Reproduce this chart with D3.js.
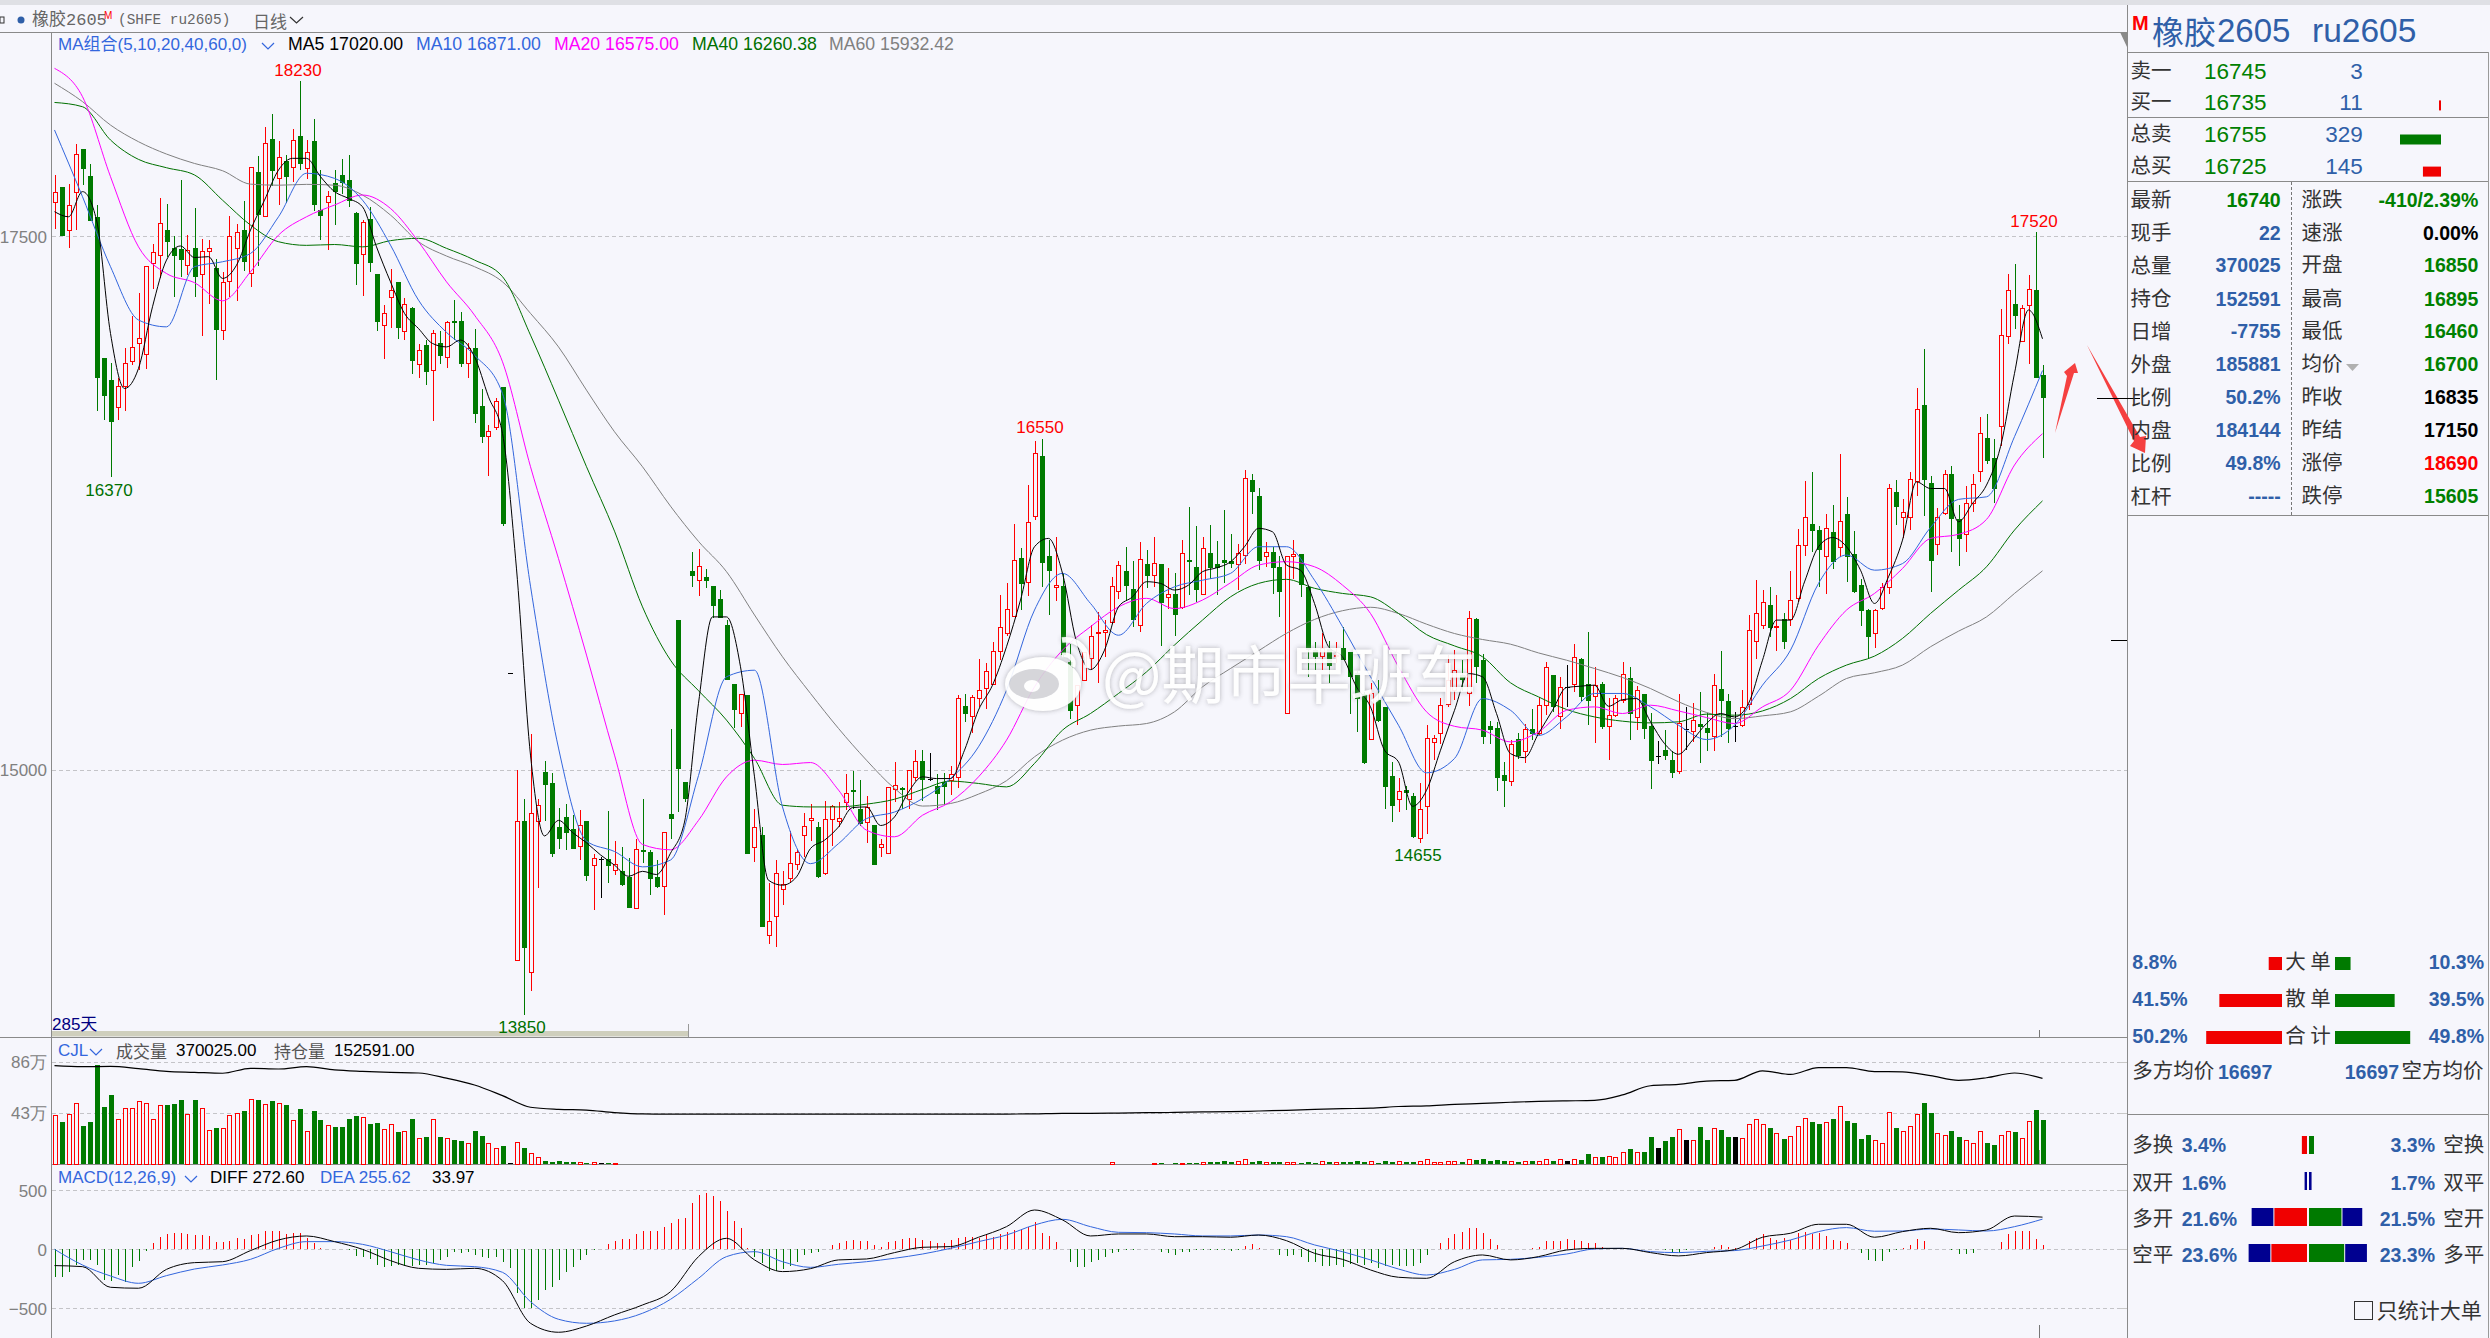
<!DOCTYPE html>
<html><head><meta charset="utf-8">
<script src="https://cdn.jsdelivr.net/npm/d3@7/dist/d3.min.js"></script>
<style>html,body{margin:0;padding:0;background:#f6f6fc}svg{display:block}</style>
</head><body><svg id="c" width="2490" height="1338"></svg>
<script>
const open=[17660,17730,17530,17705,17910,17785,17590,16930,16825,16700,
16795,16915,17000,16945,17375,17410,17530,17445,17440,17365,
17445,17320,17430,17350,17060,17290,17445,17530,17325,17800,
17595,17955,17770,17855,17825,17970,17820,17945,17625,17660,
17750,17790,17765,17610,17415,17580,17325,17080,17215,17285,
17055,17165,16900,16990,16870,17000,16930,17105,17105,16905,
16975,16705,16560,16605,16795,15455,14105,14760,14050,14755,
14990,14935,14730,14780,14720,14640,14760,14550,14580,14580,
14525,14525,14495,14350,14625,14615,14495,14450,14790,15700,
14940,15930,15885,15905,15860,15800,15680,15400,15265,15350,
14635,14695,14220,14310,14440,14490,14555,14690,14760,14730,
14515,14765,14755,14845,14905,14815,14750,14740,14635,14605,
14905,14915,14860,14965,15040,14955,14925,14940,14950,14965,
15300,15250,15335,15380,15400,15555,15640,15720,15990,15875,
16185,16470,16000,15855,15860,15505,15300,15420,15520,15640,
15645,15690,15835,15930,15845,15675,15965,15910,15965,15805,
15825,15760,15985,15950,15820,16015,15965,15985,15980,15960,
16005,16360,16285,16000,16020,15950,15265,16000,16010,15855,
15560,15530,15565,15530,15570,15550,15455,15355,15140,15325,
15295,14970,14860,14905,14875,14675,14825,15125,15170,15305,
15370,15445,15355,15705,15515,15205,15195,14975,14945,15145,
15085,15190,15170,15300,15445,15250,15385,15400,15520,15400,
15345,15400,15200,15255,15325,15430,15245,15355,15205,15065,
15090,15045,14990,15190,15180,15215,15195,15155,15380,15320,
15205,15205,15305,15600,15675,15770,15665,15705,15705,15800,
16050,16150,16125,16000,16115,16040,16200,16010,15865,15750,
15640,15755,15855,16300,16180,16180,16350,16710,16345,16055,
16200,16385,16175,16100,16250,16400,16555,16460,16610,17030,
17185,17005,17175,17250,16850];
const high=[17790,17730,17745,17935,17910,17840,17645,16930,16905,16835,
16975,17125,17235,17360,17465,17680,17650,17500,17765,17505,
17635,17490,17485,17395,17335,17595,17560,17665,17825,17875,
18015,18075,17945,17880,18005,18230,17950,18050,17810,17715,
17810,17865,17880,17615,17575,17640,17325,17180,17345,17285,
17210,17170,16995,17015,17060,17055,17105,17200,17145,17000,
17065,16785,16615,16740,16795,15455,15000,14860,15165,14860,
15040,14985,14820,14840,14785,14810,14760,14605,14590,14805,
14665,14635,14585,14675,14860,14625,14575,14705,15190,15700,
14940,16020,16035,15940,15860,15840,15700,15400,15355,15350,
14815,14730,14470,14575,14525,14710,14630,14795,14840,14755,
14855,14835,14850,14980,14995,14950,14875,14740,14675,14920,
15035,14920,15000,15090,15090,15080,14980,14985,15015,15350,
15355,15350,15520,15500,15600,15820,15875,16150,16040,16335,
16540,16550,16075,16090,15920,15590,15395,15550,15680,15740,
15700,15905,15980,16045,15980,16065,16030,16090,15965,15945,
15920,16075,16230,16140,16090,16145,16070,16215,16105,16060,
16405,16385,16320,16065,16045,16000,16000,16075,16010,15855,
15600,15640,15605,15600,15670,15550,15460,15365,15405,15420,
15295,15035,14960,14925,14890,14935,15210,15160,15335,15535,
15560,15515,15745,15710,15540,15230,15225,15035,15140,15170,
15215,15285,15340,15505,15445,15435,15490,15590,15525,15645,
15480,15410,15335,15350,15505,15480,15390,15355,15265,15135,
15185,15085,15355,15295,15310,15365,15265,15450,15555,15355,
15270,15375,15725,15890,15840,15855,15820,15735,15930,16130,
16355,16395,16140,16200,16240,16480,16280,16120,15895,15755,
15755,15875,16340,16360,16270,16395,16790,16970,16375,16225,
16405,16425,16240,16330,16385,16655,16665,16550,17160,17325,
17370,17180,17320,17520,16895];
const low=[17535,17500,17445,17530,17740,17570,16680,16640,16370,16640,
16680,16895,16875,16880,17255,17305,17405,17215,17310,17320,
17215,17035,17185,16825,17015,17215,17195,17340,17265,17360,
17595,17735,17645,17655,17755,17810,17770,17620,17485,17435,
17555,17700,17640,17270,17220,17335,17055,16925,17070,17020,
17015,16855,16835,16805,16635,16900,16885,17015,16890,16835,
16625,16530,16375,16590,16140,15455,14105,13850,13960,14445,
14760,14590,14630,14625,14630,14575,14480,14340,14400,14470,
14505,14455,14350,14350,14560,14410,14445,14320,14675,14800,
14850,15855,15815,15850,15710,15710,15420,15195,15200,14605,
14565,14260,14180,14170,14365,14475,14530,14590,14665,14490,
14505,14640,14730,14810,14815,14735,14655,14555,14590,14605,
14850,14815,14815,14945,14855,14945,14810,14835,14880,14915,
15225,15170,15295,15285,15400,15515,15625,15720,15750,15815,
16170,15855,15725,15790,15530,15235,15210,15420,15465,15405,
15530,15685,15800,15795,15670,15645,15850,15855,15580,15755,
15625,15755,15820,15785,15820,15895,15820,15875,15945,15840,
15965,16200,15935,15950,15825,15715,15265,15895,15810,15435,
15465,15465,15405,15500,15515,15260,15175,15025,15140,15225,
14815,14755,14800,14810,14680,14655,14700,15045,15120,15295,
15325,15370,15300,15405,15120,15120,14900,14825,14925,15050,
15030,15140,15160,15255,15270,15190,15295,15365,15320,15210,
15125,15190,15045,15245,15310,15140,15185,15145,14910,15025,
15045,14960,14980,15090,15130,15030,15085,15085,15155,15125,
15130,15200,15280,15520,15660,15620,15555,15565,15675,15785,
16000,16020,15855,15825,15940,15995,15880,15830,15675,15520,
15570,15750,15825,16145,16085,16125,16285,16190,15835,16005,
16195,16020,15955,16020,16210,16350,16435,16250,16515,16995,
17065,17005,16900,16835,16460];
const close=[17705,17500,17645,17885,17815,17570,16835,16750,16630,16795,
16905,16980,17020,17360,17425,17560,17475,17410,17390,17435,
17310,17430,17445,17060,17285,17500,17520,17380,17825,17600,
17935,17805,17870,17780,17950,17840,17895,17645,17595,17685,
17710,17750,17665,17370,17565,17375,17100,17140,17245,17070,
17180,16915,16965,16865,17045,16940,17095,17095,16900,16975,
16665,16560,16585,16725,16150,15455,14755,14165,14795,14830,
14930,14605,14675,14705,14630,14740,14500,14585,14580,14550,
14555,14460,14350,14625,14615,14485,14450,14705,14770,15005,
14860,15910,15950,15885,15765,15710,15420,15280,15350,14605,
14730,14260,14290,14515,14460,14560,14610,14735,14770,14495,
14765,14825,14770,14890,14895,14745,14820,14555,14650,14915,
14925,14905,14995,15040,14950,14955,14885,14920,14975,15335,
15260,15340,15370,15460,15555,15665,15750,15980,15870,16160,
16480,15970,15930,15865,15535,15275,15395,15550,15625,15645,
15650,15860,15955,15860,15700,15985,15910,15965,15780,15820,
15725,16015,15975,15840,16035,15945,15945,15970,15965,16015,
16365,16300,15980,16020,15945,15835,16000,16010,15865,15560,
15530,15570,15485,15535,15515,15435,15330,15030,15355,15230,
14920,14830,14895,14890,14685,14815,15145,15145,15300,15420,
15465,15420,15710,15480,15155,15185,14960,14945,15120,15065,
15190,15165,15300,15480,15295,15385,15385,15525,15340,15320,
15395,15200,15255,15335,15445,15260,15370,15190,15040,15065,
15065,14985,15215,15190,15230,15200,15170,15395,15320,15190,
15205,15290,15650,15730,15785,15665,15670,15600,15795,16050,
16180,16120,16030,16130,15975,16165,15995,15835,15745,15620,
15745,15855,16320,16230,16205,16360,16690,16360,15980,16180,
16385,16175,16080,16250,16335,16575,16445,16315,17035,17245,
17125,17160,17250,16835,16740];
const volume=[40.7,35.7,41.6,50.9,32.3,35.7,83.7,48.1,58.4,37.9,
46.4,47.2,52.3,51.4,37.9,49.2,50.0,50.9,54.2,41.6,
54.2,46.4,28.1,30.3,30.3,40.7,43.0,44.4,54.2,54.2,
50.0,52.8,50.9,50.0,36.8,46.6,27.0,45.0,36.8,32.3,
31.5,31.5,37.9,40.7,38.8,34.0,34.6,28.9,33.2,27.3,
27.3,38.2,21.4,22.5,37.4,22.5,21.4,20.5,19.7,17.7,
28.1,23.3,17.7,12.9,15.5,0.6,18.5,13.5,8.7,5.1,
2.8,2.0,2.2,2.0,1.7,1.4,1.1,1.1,0.8,0.8,
0.8,0,0,0,0,0,0,0,0,0,
0,0,0,0,0,0,0,0,0,0,
0,0,0,0,0,0,0,0,0,0,
0,0,0,0,0,0,0,0,0,0,
0,0,0,0,0,0,0,0,0,0,
0,0,0,0,0,0,0,0,0,0,
0,0,0,0,0,0,0,0,0,0,
0,1.1,0,0,0,0,0,0.8,0.8,0,
0.8,0.8,0.8,0.8,1.1,1.7,1.7,2.5,1.7,1.7,
3.4,2.0,2.5,1.1,1.7,1.7,1.1,1.1,1.1,2.0,
1.1,1.7,2.0,1.1,1.4,2.0,2.5,1.7,2.0,1.1,
2.5,1.7,1.7,1.7,1.7,2.0,3.4,1.1,1.4,1.7,
1.7,1.7,3.9,3.4,4.2,2.5,3.4,2.2,2.5,1.7,
2.2,2.5,1.7,3.4,2.5,3.4,2.5,4.2,3.4,8.7,
5.6,5.6,6.7,5.9,9.8,12.6,9.3,10.4,22.8,13.5,
19.4,22.8,28.7,20.0,20.0,31.2,20.2,30.1,28.7,22.8,
22.8,21.9,33.7,37.9,33.7,30.3,25.3,21.1,22.8,32.0,
38.2,35.7,33.7,34.6,37.9,48.1,36.5,34.6,21.4,24.4,
20.2,17.7,43.8,30.3,27.0,32.0,41.6,51.4,43.0,25.3,
24.4,27.8,22.8,19.4,17.7,27.0,17.7,16.0,24.4,27.0,
27.0,21.1,36.2,45.8,37.0];
const macdHist=[-232,-232,-189,-133,-90,-90,-133,-260,-266,-218,
-274,-153,-96,-14,51,102,130,136,141,130,
121,121,113,62,62,73,93,85,121,130,
155,155,155,130,136,136,93,51,8,3,
3,0,-6,-56,-68,-85,-133,-153,-141,-133,
-141,-141,-133,-133,-119,-90,-62,-20,-28,-20,
-48,-68,-76,-62,-105,-161,-373,-500,-500,-429,
-345,-316,-260,-189,-147,-90,-48,-6,0,45,
73,85,85,130,155,155,155,192,226,254,
263,390,460,475,455,410,325,243,178,8,
-62,-119,-181,-181,-170,-141,-105,-48,-28,-20,
0,37,51,73,79,73,71,37,17,62,
73,88,93,93,79,73,51,51,79,93,
107,107,93,121,107,130,150,164,172,192,
234,136,113,65,0,-105,-147,-147,-105,-90,
-62,-28,-20,-6,-6,0,0,0,-20,-28,
-48,-20,-20,-6,-6,-6,-6,-6,-11,-6,
28,42,8,0,0,-48,-56,-48,-62,-105,
-105,-141,-141,-133,-147,-127,-119,-133,-119,-161,
-141,-133,-141,-141,-141,-119,-48,0,51,93,
130,150,178,178,136,85,37,0,0,0,
0,8,23,73,73,73,85,79,73,51,
51,23,0,0,0,0,0,0,0,0,
-6,-34,-34,-6,0,0,0,23,37,23,
8,0,73,93,130,93,79,93,79,136,
150,130,141,113,79,73,51,0,-34,-90,
-96,-96,-20,-6,8,37,85,73,3,3,
0,-6,-42,-40,-28,0,3,6,65,130,
155,155,155,88,34];
const ma5=[17616,17592,17710,17577,17045,16787,16881,17170,17389,17455,
17401,17405,17303,17365,17530,17670,17811,17866,17866,17780,
17710,17678,17639,17451,17287,17139,17068,16998,16982,17014,
16936,16748,16576,15941,15068,14689,14762,14705,14657,14600,
14552,14500,14523,14508,14608,14754,15311,15716,15716,15482,
14966,14481,14458,14497,14630,14669,14731,14822,14825,14738,
14778,14895,14966,14958,14958,15091,15279,15396,15576,15795,
16045,16084,15920,15599,15469,15560,15763,15810,15881,15873,
15842,15865,15928,15946,15974,16045,16131,16115,15959,15935,
15779,15576,15529,15388,15294,15091,15036,14828,14903,15091,
15278,15450,15435,15263,15075,15056,15169,15278,15385,15391,
15396,15297,15328,15333,15224,15122,15072,15138,15216,15263,
15247,15310,15513,15701,15701,15880,16045,16088,16045,15935,
15779,15904,16076,16349,16318,16318,16162,16248,16334,16514,
16858,17155,17020];
const ma10=[17999,17686,17358,17108,17076,17358,17381,17420,17592,17796,17772,17670,
17459,17201,17050,16943,16763,15860,15101,14665,14616,14544,14576,14972,
15435,15466,14825,14559,14653,14770,14801,14864,14958,15107,15372,15748,
15920,15779,15630,15779,15857,15888,15920,16045,16045,15888,15670,15435,
15208,14985,15052,15333,15278,15160,15247,15357,15357,15294,15208,15141,
15208,15396,15560,15873,16006,15935,15966,16135,16267,16279,16561,16871];
const ma20=[18288,18155,17780,17451,17326,17283,17198,17334,17506,17592,17647,17694,
17631,17475,17287,17131,16912,16420,15989,15537,15068,14649,14624,14762,
14966,15044,15024,15033,14904,14716,14685,14786,14849,14966,15138,15388,
15560,15670,15763,15803,15755,15795,15876,15959,15975,15951,15865,15732,
15482,15271,15203,15185,15130,15177,15278,15294,15263,15302,15275,15244,
15216,15294,15372,15583,15748,15826,15943,16084,16103,16173,16428,16575];
const ma40=[18128,18108,17952,17861,17822,17788,17670,17553,17475,17458,17462,17451,
17480,17491,17444,17389,17311,17037,16732,16420,16118,15763,15513,15370,
15232,15052,14833,14825,14825,14838,14861,14907,14946,14935,14919,15029,
15185,15263,15357,15458,15584,15701,15810,15873,15892,15850,15826,15810,
15732,15633,15580,15529,15407,15341,15282,15247,15227,15219,15224,15260,
15255,15275,15333,15427,15490,15532,15615,15732,15841,15951,16123,16260];
const ma60=[18218,18132,18022,17944,17886,17842,17808,17745,17740,17744,17740,17694,
17600,17475,17408,17358,17287,17139,16982,16779,16584,16420,16235,16070,
15928,15725,15529,15357,15193,15044,14912,14829,14841,14885,14948,15060,
15138,15185,15204,15216,15271,15388,15474,15557,15639,15704,15745,15761,
15732,15682,15638,15610,15588,15547,15513,15474,15432,15380,15318,15268,
15239,15252,15271,15344,15427,15454,15490,15576,15649,15716,15826,15932];
const openInterest=[20.6,20.2,20.3,19.4,18.2,17.8,17.4,19.5,19.2,20.2,18.8,18.2,
17.8,17.5,15.3,12.4,7.9,3.0,2.1,1.8,0.7,0.14,0.1,0.1,
0.1,0.1,0.1,0.1,0.1,0.1,0.1,0.1,0.1,0.1,0.1,0.2,
0.4,0.4,0.5,0.7,0.8,1.0,1.1,1.4,1.7,2.1,2.4,2.6,
3.3,3.6,4.2,4.6,5.1,5.5,5.7,5.9,8.2,12.1,12.7,14.1,
14.4,18.4,16.9,19.8,19.8,18.1,18.0,16.4,14.4,15.5,17.5,15.26];
const diff=[-138,-147,-322,-330,-170,-113,-105,-11,79,113,65,0,
-96,-161,-170,-161,-266,-627,-703,-650,-556,-472,-359,-62,
93,-90,-189,-164,-90,-82,-28,17,23,102,192,333,
249,113,130,130,107,107,102,121,73,-34,-85,-175,
-237,-246,-105,-48,-90,-62,-6,8,8,-28,-56,-28,
-3,102,136,212,212,102,150,178,141,164,282,272.6];
const dea=[0,-133,-226,-288,-223,-167,-133,-85,8,65,65,42,
-20,-90,-136,-147,-195,-444,-593,-627,-607,-542,-424,-246,
-62,-20,-105,-153,-127,-105,-76,-40,8,65,121,206,
254,192,144,141,130,113,113,121,107,37,-20,-90,
-167,-218,-170,-90,-85,-68,-40,3,8,-20,-28,-17,
-11,28,79,150,184,153,155,172,164,155,192,255.62];

const titleItems=["橡胶2605","(SHFE ru2605)","日线"];
const maLegend=[["MA5 17020.00","#000000",288],["MA10 16871.00","#3366dd",416],["MA20 16575.00","#ff00ff",554],["MA40 16260.38","#007000",692],["MA60 15932.42","#808080",829]];
const peakLabels=[["18230","#ff0000",298,70],["16370","#007000",109,490],["16550","#ff0000",1040,427],["14655","#007000",1418,855],["13850","#007000",522,1027],["17520","#ff0000",2034,221]];
const priceTicks=[15000,17500];
const volTicks=[43,86];
const macdTicks=[-500,0,500];
const quoteLabels=["卖一","买一","总卖","总买"];
const quotePrices=["16745","16735","16755","16725"];
const quoteLots=[3,11,329,145];
const quoteSide=["","red","green","red"];
const infoLeft=[["最新","16740","#008000"],["现手","22","#2f5fa8"],["总量","370025","#2f5fa8"],["持仓","152591","#2f5fa8"],["日增","-7755","#2f5fa8"],["外盘","185881","#2f5fa8"],["比例","50.2%","#2f5fa8"],["内盘","184144","#2f5fa8"],["比例","49.8%","#2f5fa8"],["杠杆","-----","#2f5fa8"]];
const infoRight=[["涨跌","-410/2.39%","#008000"],["速涨","0.00%","#000000"],["开盘","16850","#008000"],["最高","16895","#008000"],["最低","16460","#008000"],["均价","16700","#008000"],["昨收","16835","#000000"],["昨结","17150","#000000"],["涨停","18690","#ff0000"],["跌停","15605","#008000"]];
const orderLabels=["大 单","散 单","合 计"];
const orderBuy=[8.8,41.5,50.2];
const orderSell=[10.3,39.5,49.8];
const flowLeftLabels=["多换","双开","多开","空平"];
const flowRightLabels=["空换","双平","空开","多平"];
const flowLeft=[3.4,1.6,21.6,23.6];
const flowRight=[3.3,1.7,21.5,23.3];
const flowOuterLeft=[0,0,14.4,14.4];
const flowOuterRight=[0,0,13.1,14.4];

const svg=d3.select("#c");
const BG="#f6f6fc",AX="#8a8a8a",GRID="#c4c4c8",RED="#ff0000",GREEN="#007a00",BLUE="#3366dd",TXT="#333333",VAL="#2f5fa8";
const SANS="'Liberation Sans',Arial,sans-serif",CJK="'Noto Sans CJK SC','Liberation Sans',sans-serif";
const idx=d3.range(open.length);
const x=d3.scaleLinear().domain([0,284]).range([54.5,2042.5]);
const px=i=>Math.round(x(i))+.5;
const y=d3.scaleLinear().domain([15000,17500]).range([769.6,236.4]);
const yVol=d3.scaleLinear().domain([0,43,86]).range([1164,1113,1062]);
const yOI=d3.scaleLinear().domain([0,15.26]).range([1114.3,1078.3]);
const yM=d3.scaleLinear().domain([-500,0,500]).range([1308.3,1249.3,1190.3]);
const step4=d3.range(0,285,4), step2=d3.range(0,285,2);
const text=(g,s,xx,yy,o={})=>g.append("text").attr("x",xx).attr("y",yy).attr("dominant-baseline","central")
 .attr("text-anchor",o.a||"start").attr("fill",o.c||TXT).attr("font-size",o.s||21).attr("font-family",o.f||CJK)
 .attr("font-weight",o.w||400).text(s);
const hline=(yy,x1,x2,c=AX,dash)=>svg.append("line").attr("x1",x1).attr("x2",x2).attr("y1",yy).attr("y2",yy).attr("stroke",c).attr("stroke-width",1).attr("stroke-dasharray",dash||null).attr("shape-rendering","crispEdges");
const vline=(xx,y1,y2,c=AX,dash)=>svg.append("line").attr("x1",xx).attr("x2",xx).attr("y1",y1).attr("y2",y2).attr("stroke",c).attr("stroke-width",1).attr("stroke-dasharray",dash||null).attr("shape-rendering","crispEdges");
const chevron=(xx,yy,w,c)=>svg.append("path").attr("d",`M${xx},${yy-3}L${xx+w/2},${yy+3}L${xx+w},${yy-3}`).attr("fill","none").attr("stroke",c).attr("stroke-width",1.2);

svg.append("rect").attr("width",2490).attr("height",1338).attr("fill",BG);
svg.append("rect").attr("width",2490).attr("height",5).attr("fill","#dfe0e5");

// title row
svg.append("rect").attr("x",0).attr("y",17).attr("width",4).attr("height",6).attr("fill","none").attr("stroke","#333");
svg.append("circle").attr("cx",21).attr("cy",20).attr("r",3.5).attr("fill","#2f5fa8");
text(svg,titleItems[0],32,20,{c:"#666",s:17,f:"'Liberation Mono',"+CJK});
text(svg,"M",104,15,{c:RED,s:10,f:SANS});
text(svg,titleItems[1],118,20,{c:"#666",s:14.4,f:"'Liberation Mono',monospace"});
text(svg,titleItems[2],253,20,{c:"#666",s:17});
chevron(290,20,13,"#333");
hline(32.5,0,2127);

// frame lines
vline(51.5,32,1338);
vline(2127.5,5,1338);
svg.append("path").attr("d","M2120,32L2127,32L2127,47Z").attr("fill","#8a8a8a");

// grids
[y(17500),y(15000),yVol(86),yVol(43),yM(500),yM(0),yM(-500)].forEach(v=>hline(Math.round(v)+.5,52,2127,GRID,"4,3"));

// axes
const axisStyle=g=>{g.select(".domain").remove();g.selectAll("text").attr("fill","#808080").attr("font-size",17).attr("font-family",SANS+"").attr("dy","0.35em");};
svg.append("g").attr("transform","translate(51,0)").call(d3.axisLeft(y).tickValues(priceTicks).tickSize(0).tickPadding(4).tickFormat(d3.format("d"))).call(axisStyle);
svg.append("g").attr("transform","translate(51,0)").call(d3.axisLeft(yVol).tickValues(volTicks).tickSize(0).tickPadding(4).tickFormat(d=>d+"万")).call(axisStyle);
svg.append("g").attr("transform","translate(51,0)").call(d3.axisLeft(yM).tickValues(macdTicks).tickSize(0).tickPadding(4).tickFormat(d3.format("d"))).call(axisStyle);

// scroll band
svg.append("rect").attr("x",52).attr("y",1031).attr("width",636).attr("height",5.5).attr("fill","#cfcfbd");
vline(688.5,1024,1037,"#999");
hline(1037.5,0,2127);
hline(1164.5,52,2127);
vline(2039.5,1030,1037,"#777");
vline(2039.5,1325,1338,"#777");
vline(2039.5,1150,1164,"#999");

// candles
const col=i=>close[i]>open[i]?RED:close[i]<open[i]?GREEN:"#000";
const candle=svg.append("g").attr("shape-rendering","crispEdges");
candle.selectAll("line.w").data(idx).join("line").attr("class","w")
 .attr("x1",px).attr("x2",px).attr("y1",i=>y(high[i])).attr("y2",i=>y(low[i])).attr("stroke",col).attr("stroke-width",1);
candle.selectAll("rect.b").data(idx).join("rect").attr("class","b")
 .attr("x",i=>px(i)-(close[i]>open[i]?2:2.5)-0).attr("width",i=>close[i]>open[i]?4:5)
 .attr("y",i=>y(Math.max(open[i],close[i])))
 .attr("height",i=>Math.max(1,Math.abs(y(open[i])-y(close[i]))))
 .attr("fill",i=>close[i]>open[i]?BG:col(i))
 .attr("stroke",i=>close[i]>open[i]?RED:"none").attr("stroke-width",1);

// moving averages
const mkLine=(arr,days,c,yy,w=1,curve=d3.curveMonotoneX)=>svg.append("path")
 .attr("d",d3.line().x((d,k)=>x(days[k])).y(d=>yy(d)).curve(curve)(arr))
 .attr("fill","none").attr("stroke",c).attr("stroke-width",w);
mkLine(ma60,step4,"#808080",y);
mkLine(ma40,step4,"#007000",y);
mkLine(ma20,step4,"#ff00ff",y);
mkLine(ma10,step4,"#3366dd",y);
mkLine(ma5,step2,"#000000",y);

// volume
const vol=svg.append("g").attr("shape-rendering","crispEdges");
vol.selectAll("rect").data(idx.filter(i=>volume[i]>0)).join("rect")
 .attr("x",i=>px(i)-(close[i]>open[i]?2:2.5)).attr("width",i=>close[i]>open[i]?4:5)
 .attr("y",i=>yVol(volume[i])).attr("height",i=>Math.max(1,yVol(0)-yVol(volume[i])))
 .attr("fill",i=>close[i]>open[i]?BG:col(i)).attr("stroke",i=>close[i]>open[i]?RED:"none");
mkLine(openInterest,step4,"#000",yOI,1.2);

// macd
svg.append("g").attr("shape-rendering","crispEdges").selectAll("line").data(idx.filter(i=>macdHist[i]!==0)).join("line")
 .attr("x1",px).attr("x2",px).attr("y1",yM(0)).attr("y2",i=>yM(macdHist[i]))
 .attr("stroke",i=>macdHist[i]>0?RED:GREEN);
mkLine(dea,step4,"#3366dd",yM,1);
mkLine(diff,step4,"#000",yM,1);

// legends
text(svg,"MA组合(5,10,20,40,60,0)",58,44,{c:BLUE,s:17,f:SANS+",'Noto Sans CJK SC'"});
chevron(262,46,12,BLUE);
maLegend.forEach(d=>text(svg,d[0],d[2],44,{c:d[1],s:17.7,f:SANS}));
peakLabels.forEach(d=>text(svg,d[0],d[2],d[3],{c:d[1],s:17,f:SANS,a:"middle"}));
text(svg,"285天",52,1024,{c:"#000080",s:17,f:SANS+",'Noto Sans CJK SC'"});
text(svg,"CJL",58,1050,{c:BLUE,s:17,f:SANS});
chevron(90,1052,12,BLUE);
text(svg,"成交量",116,1050,{c:"#555",s:17});
text(svg,"370025.00",176,1050,{c:"#000",s:17,f:SANS});
text(svg,"持仓量",274,1050,{c:"#555",s:17});
text(svg,"152591.00",334,1050,{c:"#000",s:17,f:SANS});
text(svg,"MACD(12,26,9)",58,1177,{c:BLUE,s:17,f:SANS});
chevron(185,1179,12,BLUE);
text(svg,"DIFF 272.60",210,1177,{c:"#000",s:17,f:SANS});
text(svg,"DEA 255.62",320,1177,{c:BLUE,s:17,f:SANS});
text(svg,"33.97",432,1177,{c:"#000",s:17,f:SANS});

// watermark
const defs=svg.append("defs");
const fl=defs.append("filter").attr("id","wm").attr("x","-10%").attr("y","-20%").attr("width","120%").attr("height","140%");
fl.append("feDropShadow").attr("dx",0).attr("dy",0).attr("stdDeviation",2.4).attr("flood-color","#8a8a90").attr("flood-opacity",.7);
const wm=svg.append("g").attr("filter","url(#wm)").attr("opacity",.92);
wm.append("ellipse").attr("cx",1043).attr("cy",684).attr("rx",38).attr("ry",27).attr("fill","#fff");
wm.append("ellipse").attr("cx",1034).attr("cy",684).attr("rx",25).attr("ry",15).attr("fill","#d4d4d8");
wm.append("ellipse").attr("cx",1032).attr("cy",686).attr("rx",8).attr("ry",6).attr("fill","#fff");
wm.append("path").attr("d","M1062,640C1078,638 1090,650 1087,668").attr("fill","none").attr("stroke","#fff").attr("stroke-width",5.5);
wm.append("path").attr("d","M1062,655C1070,654 1075,659 1073,667").attr("fill","none").attr("stroke","#fff").attr("stroke-width",4.5);
text(wm,"@期市早班车",1102,670,{c:"#ffffff",s:63,f:CJK});

// hand annotations
svg.append("path").attr("d","M2055,433L2067,376L2064,372L2075,363L2078,373L2074,373Z").attr("fill","#f54040");
svg.append("path").attr("d","M2087,345L2140,437L2146,436L2145,453L2130,446L2134,441Z").attr("fill","#f54040");
hline(398.5,2097,2140,"#000");
hline(640.5,2111,2127,"#000");

// right panel
hline(52.5,2127,2488);hline(117.5,2127,2488);hline(181.5,2127,2488);hline(515.5,2127,2488);hline(1114.5,2127,2488);
vline(2488.5,52,1338,"#9a9a9a");
vline(2291.5,182,515,"#777","3,2");
[1062,1113,1190,1249,1308].forEach(v=>hline(v+.5,2120,2127,"#c8c8c8"));
text(svg,"M",2132,23,{c:RED,s:20,f:SANS,w:700});
text(svg,"橡胶",2152,30,{c:VAL,s:32});
text(svg,"2605",2217,30,{c:VAL,s:33,f:SANS});
text(svg,"ru2605",2312,30,{c:VAL,s:33.5,f:SANS});

const quoteY=[70.3,101.4,133.5,165.6];
const qScale=d3.scaleLinear().domain([0,329]).range([0,41]);
quoteLabels.forEach((l,i)=>{
 text(svg,l,2130.5,quoteY[i]-1.5,{s:20.5});
 text(svg,quotePrices[i],2204,quoteY[i]+1,{c:"#008000",s:22.5,f:SANS});
 text(svg,quoteLots[i],2362.7,quoteY[i]+1,{c:VAL,s:22.5,f:SANS,a:"end"});
 if(quoteSide[i]){const w=Math.max(2,qScale(quoteLots[i]));
  svg.append("rect").attr("x",2441-w).attr("y",quoteY[i]+(i==1?-1:1)).attr("width",w).attr("height",10).attr("fill",quoteSide[i]=="red"?"#f00000":"#007a00");}
});
const infoY=[199.5,232.6,265.4,298.5,331.3,364.4,397.2,430.4,463.2,496.3];
infoLeft.forEach((d,i)=>{text(svg,d[0],2130.5,infoY[i]-1.5,{s:20.5});text(svg,d[1],2280.7,infoY[i],{c:d[2],s:19.5,f:SANS,w:700,a:"end"});});
infoRight.forEach((d,i)=>{text(svg,d[0],2301.5,infoY[i]-2,{s:20.5});text(svg,d[1],2478.3,infoY[i],{c:d[2],s:19.5,f:SANS,w:700,a:"end"});});
svg.append("path").attr("d","M2346,364L2359,364L2352.5,371Z").attr("fill","#b0b0b0");

const pct=d3.scaleLinear().domain([0,100]).range([0,151]);
const orderY=[963.5,1000.5,1037.5],orderTextY=[962.3,999.3,1036.3];
orderLabels.forEach((l,i)=>{
 const w1=pct(orderBuy[i]),w2=pct(orderSell[i]);
 svg.append("rect").attr("x",2282-w1).attr("y",orderY[i]-6.5).attr("width",w1).attr("height",13).attr("fill","#f00000");
 svg.append("rect").attr("x",2335).attr("y",orderY[i]-6.5).attr("width",w2).attr("height",13).attr("fill","#007a00");
 text(svg,l,2308,orderTextY[i]-2,{s:20.5,a:"middle"});
 text(svg,orderBuy[i].toFixed(1)+"%",2132.3,orderTextY[i],{c:VAL,s:19.5,f:SANS,w:700});
 text(svg,orderSell[i].toFixed(1)+"%",2484,orderTextY[i],{c:VAL,s:19.5,f:SANS,w:700,a:"end"});
});
text(svg,"多方均价",2132.3,1069,{s:20.5});
text(svg,"16697",2218,1072,{c:VAL,s:19.5,f:SANS,w:700});
text(svg,"16697",2399,1072,{c:VAL,s:19.5,f:SANS,w:700,a:"end"});
text(svg,"空方均价",2401.5,1069,{s:20.5});

const flowY=[1145,1181,1217,1253],flowTY=[1143.3,1180.7,1216.7,1252.7];
const DB="#000090";
flowLeftLabels.forEach((l,i)=>{
 text(svg,l,2132.3,flowTY[i],{s:20.5});
 text(svg,flowLeft[i].toFixed(1)+"%",2181.7,flowTY[i]+2,{c:VAL,s:19.5,f:SANS,w:700});
 text(svg,flowRight[i].toFixed(1)+"%",2435,flowTY[i]+2,{c:VAL,s:19.5,f:SANS,w:700,a:"end"});
 text(svg,flowRightLabels[i],2443.3,flowTY[i],{s:20.5});
 const lw=pct(flowLeft[i]),rw=pct(flowRight[i]),colL=i==1?DB:"#f00000",colR=i==1?DB:"#007a00";
 const seg=(xx,w,c)=>svg.append("rect").attr("x",xx).attr("y",flowY[i]-9).attr("width",w).attr("height",18).attr("fill",c);
 seg(2307-lw,lw,colL);seg(2309,rw,colR);
 if(flowOuterLeft[i]){const a=pct(flowOuterLeft[i]);seg(2307-lw-1-a,a,DB);}
 if(flowOuterRight[i]){const a=pct(flowOuterRight[i]);seg(2309+rw+1,a,DB);}
});
svg.append("rect").attr("x",2354.5).attr("y",1301.5).attr("width",18).attr("height",18).attr("fill","none").attr("stroke","#333");
text(svg,"只统计大单",2376.7,1309,{s:21});
</script></body></html>
